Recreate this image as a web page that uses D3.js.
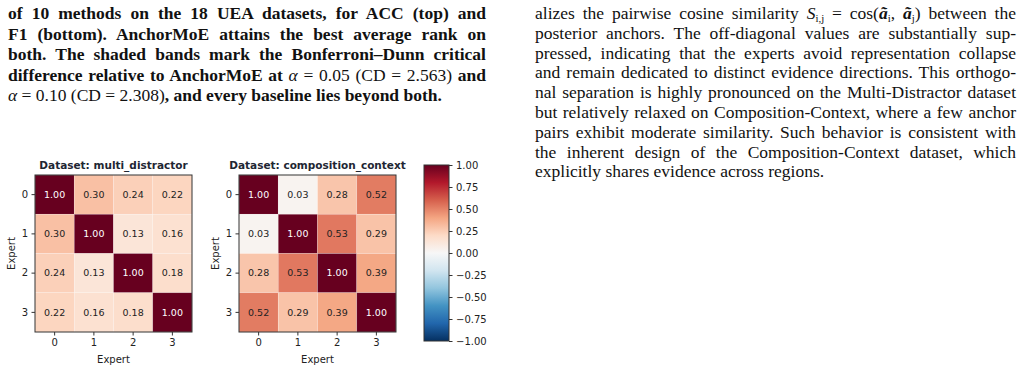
<!DOCTYPE html>
<meta charset="utf-8">
<script src="https://d3js.org/d3.v7.min.js"></script>
<style>
  body { margin: 0; background: #fff; width: 1024px; height: 371px; overflow: hidden; position: relative; }
  .para { position: absolute; font-family: "Liberation Serif", "DejaVu Serif", serif; color: #111; }
  .para .ln { position: absolute; left: 0; white-space: nowrap; line-height: 20px; }
  .para sub { font-size: 0.62em; vertical-align: baseline; position: relative; top: 0.25em; line-height: 0; }
  .left { left: 8px; top: 0; font-weight: bold; font-size: 17.5px; }
  .right { left: 535px; top: 0; font-size: 17.5px; }
  svg { position: absolute; left: 0; top: 0; }
  .tick text { font-family: "DejaVu Sans", sans-serif; }
</style>
<body>
<div class="para left" id="leftText"></div>
<div class="para right" id="rightText"></div>
<svg width="1024" height="371"></svg>
<script>
// text lines of the two columns (true = justify to full width)
var leftLines = [
  ["of 10 methods on the 18 UEA datasets, for ACC (top) and", true],
  ["F1 (bottom). AnchorMoE attains the best average rank on", true],
  ["both. The shaded bands mark the Bonferroni–Dunn critical", true],
  ["difference relative to AnchorMoE at <i style='font-weight:normal'>α</i> <span style='font-weight:normal'>= 0.05 (CD = 2.563)</span> and", true],
  ["<span style='font-weight:normal'><i>α</i> = 0.10 (CD = 2.308)</span>, and every baseline lies beyond both.", false]
];
var rightLines = [
  ["alizes the pairwise cosine similarity <i>S</i><sub>i,j</sub> = cos(<b><i>ã</i></b><sub>i</sub>, <b><i>ã</i></b><sub>j</sub>) between the", true],
  ["posterior anchors. The off-diagonal values are substantially sup-", true],
  ["pressed, indicating that the experts avoid representation collapse", true],
  ["and remain dedicated to distinct evidence directions. This orthogo-", true],
  ["nal separation is highly pronounced on the Multi-Distractor dataset", true],
  ["but relatively relaxed on Composition-Context, where a few anchor", true],
  ["pairs exhibit moderate similarity. Such behavior is consistent with", true],
  ["the inherent design of the Composition-Context dataset, which", true],
  ["explicitly shares evidence across regions.", false]
];

var experts = ["0", "1", "2", "3"];
var multiDistractor = [
  [1.00, 0.30, 0.24, 0.22],
  [0.30, 1.00, 0.13, 0.16],
  [0.24, 0.13, 1.00, 0.18],
  [0.22, 0.16, 0.18, 1.00]
];
var compositionContext = [
  [1.00, 0.03, 0.28, 0.52],
  [0.03, 1.00, 0.53, 0.29],
  [0.28, 0.53, 1.00, 0.39],
  [0.52, 0.29, 0.39, 1.00]
];
var colorbarTicks = [1.00, 0.75, 0.50, 0.25, 0.00, -0.25, -0.50, -0.75, -1.00];

// matplotlib RdBu_r stops
var rdbu = ["#67001f", "#b2182b", "#d6604d", "#f4a582", "#fddbc7", "#f7f7f7",
            "#d1e5f0", "#92c5de", "#4393c3", "#2166ac", "#053061"];
var color = d3.scaleLinear()
    .domain(d3.range(11).map(function(i) { return 1 - i * 0.2; }))
    .range(rdbu)
    .clamp(true);

function writeLines(id, lines, width, top, step) {
  var box = d3.select("#" + id);
  lines.forEach(function(l, i) {
    var span = box.append("span").attr("class", "ln")
        .style("top", (top + i * step) + "px")
        .html(l[0]);
    if (l[1]) {
      var w = span.node().getBoundingClientRect().width;
      var spaces = (span.text().match(/ /g) || []).length;
      span.style("word-spacing", ((width - w) / spaces) + "px");
    }
  });
}
writeLines("leftText", leftLines, 478, 3, 20.5);
writeLines("rightText", rightLines, 481, 3, 19.8);

var svg = d3.select("svg");
var fmt = d3.format(".2f");

function heatmap(data, x0, title) {
  var size = 157;
  var g = svg.append("g").attr("transform", "translate(" + x0 + ",175)");
  var x = d3.scaleBand().domain(experts).range([0, size]);
  var y = d3.scaleBand().domain(experts).range([0, size]);

  var cells = [];
  data.forEach(function(row, i) {
    row.forEach(function(v, j) { cells.push({r: experts[i], c: experts[j], v: v}); });
  });

  g.selectAll("rect.cell").data(cells).enter().append("rect")
      .attr("class", "cell")
      .attr("x", function(d) { return x(d.c); })
      .attr("y", function(d) { return y(d.r); })
      .attr("width", x.bandwidth())
      .attr("height", y.bandwidth())
      .attr("fill", function(d) { return color(d.v); })
      .attr("stroke", "rgba(255,255,255,0.35)")
      .attr("stroke-width", 0.6);

  g.selectAll("text.val").data(cells).enter().append("text")
      .attr("class", "val")
      .attr("x", function(d) { return x(d.c) + x.bandwidth() / 2; })
      .attr("y", function(d) { return y(d.r) + y.bandwidth() / 2; })
      .attr("dy", "0.35em")
      .attr("text-anchor", "middle")
      .style("font-family", "DejaVu Sans, sans-serif")
      .style("font-size", "9.5px")
      .attr("fill", function(d) { return d.v > 0.7 ? "#fff" : "#222"; })
      .text(function(d) { return fmt(d.v); });

  g.append("rect")
      .attr("width", size).attr("height", size)
      .attr("fill", "none").attr("stroke", "#333").attr("stroke-width", 1);

  var xa = g.append("g").attr("transform", "translate(0," + size + ")")
      .call(d3.axisBottom(x).tickSize(3.5).tickPadding(3.5));
  var ya = g.append("g").call(d3.axisLeft(y).tickSize(3.5).tickPadding(3.5));
  [xa, ya].forEach(function(a) {
    a.select(".domain").remove();
    a.selectAll("line").attr("stroke", "#333");
    a.selectAll("text").attr("fill", "#222").style("font-size", "10px");
  });

  g.append("text")
      .attr("x", size / 2).attr("y", -6)
      .attr("text-anchor", "middle")
      .style("font-family", "DejaVu Sans, sans-serif")
      .style("font-size", "10.5px").style("font-weight", "bold")
      .attr("fill", "#1e2633")
      .text(title);

  g.append("text")
      .attr("x", size / 2).attr("y", size + 31)
      .attr("text-anchor", "middle")
      .style("font-family", "DejaVu Sans, sans-serif")
      .style("font-size", "10px").attr("fill", "#222")
      .text("Expert");

  g.append("text")
      .attr("transform", "translate(-20," + (size / 2) + ") rotate(-90)")
      .attr("text-anchor", "middle")
      .style("font-family", "DejaVu Sans, sans-serif")
      .style("font-size", "10px").attr("fill", "#222")
      .text("Expert");
}

heatmap(multiDistractor, 35, "Dataset: multi_distractor");
heatmap(compositionContext, 239, "Dataset: composition_context");

// colorbar
var cb = svg.append("g").attr("transform", "translate(424,165)");
var cbH = 176, cbW = 25;
var cy = d3.scaleLinear().domain([1, -1]).range([0, cbH]);
var defs = svg.append("defs");
var grad = defs.append("linearGradient").attr("id", "cbGrad")
    .attr("x1", 0).attr("y1", 0).attr("x2", 0).attr("y2", 1);
rdbu.forEach(function(c, i) {
  grad.append("stop").attr("offset", (i * 10) + "%").attr("stop-color", c);
});
cb.append("rect").attr("width", cbW).attr("height", cbH).attr("fill", "url(#cbGrad)")
    .attr("stroke", "#333").attr("stroke-width", 1);
var cba = cb.append("g").attr("transform", "translate(" + cbW + ",0)")
    .call(d3.axisRight(cy).tickValues(colorbarTicks).tickFormat(fmt).tickSize(3.5).tickPadding(3.5));
cba.select(".domain").remove();
cba.selectAll("line").attr("stroke", "#333");
cba.selectAll("text").attr("fill", "#222").style("font-size", "10px");
</script>
</body>
